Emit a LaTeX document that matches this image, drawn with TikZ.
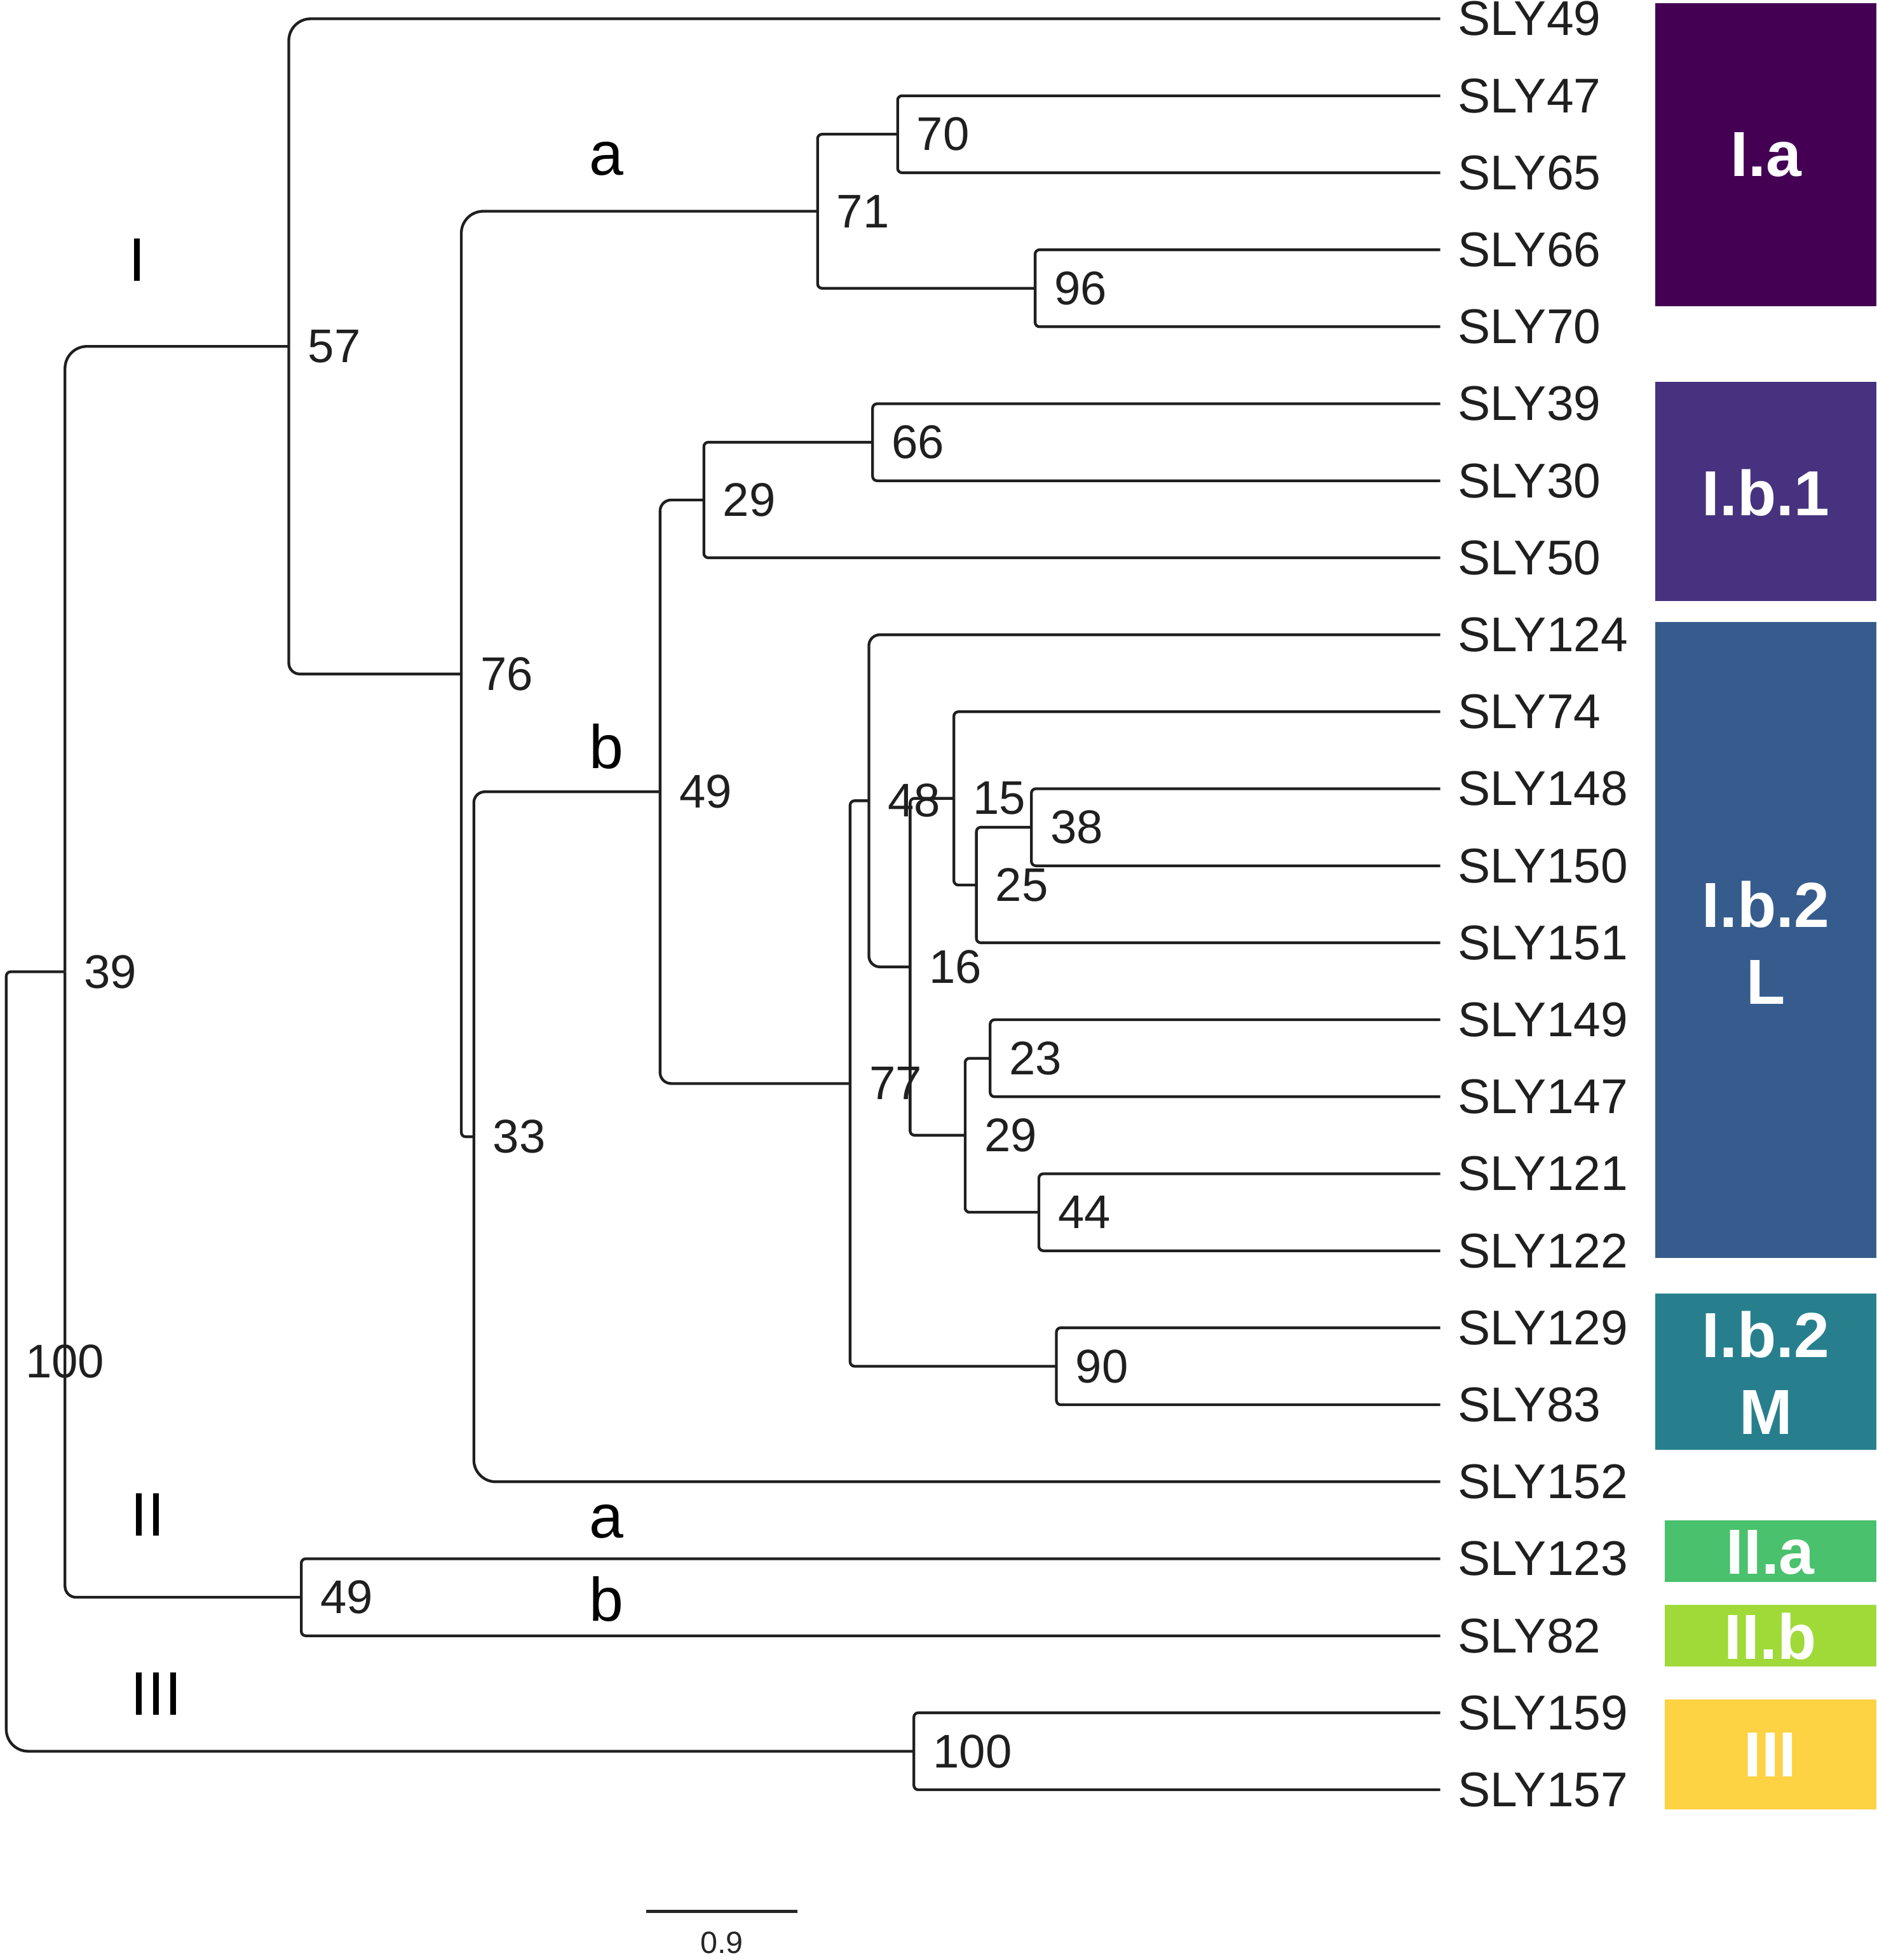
\documentclass[tikz,border=0pt]{standalone}
\usepackage{fontspec}
\setmainfont{Liberation Sans}
\definecolor{colIa}{HTML}{440154}
\definecolor{colIbone}{HTML}{46327E}
\definecolor{colIbL}{HTML}{365C8D}
\definecolor{colIbM}{HTML}{277F8E}
\definecolor{colIIa}{HTML}{4AC16D}
\definecolor{colIIb}{HTML}{A0DA39}
\definecolor{colIII}{HTML}{FDD243}

\begin{document}
\begin{tikzpicture}[x=0.02cm,y=-0.02cm,
  br/.style={line width=1.25pt,black!88,rounded corners=2pt},
  brmid/.style={br,rounded corners=5pt},
  brbig/.style={br,rounded corners=10pt},
  leaf/.style={anchor=west,inner xsep=0.28cm,inner ysep=0pt,text=black!88,font=\fontsize{22.2}{25}\selectfont},
  boot/.style={anchor=west,inner sep=0pt,xshift=0.3cm,text=black!88,font=\fontsize{21.5}{24}\selectfont},
  clade/.style={inner sep=0pt,font=\fontsize{28}{32}\selectfont},
  grp/.style={inner sep=0pt,align=center,text=white,font=\fontsize{29}{35}\selectfont\bfseries}]
\useasboundingbox (0,0) rectangle (1501,1568);

\foreach \n [count=\i from 0] in {49,47,65,66,70,39,30,50,124,74,148,150,151,149,147,121,122,129,83,152,123,82,159,157}
  \node[leaf] (SLY\n) at (1152,15+61.6*\i) {SLY\n};

\coordinate (n70) at (718,107.4);
\coordinate (n96) at (828,230.6);
\coordinate (n71) at (654,169);
\coordinate (n66) at (698,353.8);
\coordinate (n29a) at (563,400);
\coordinate (n38) at (825,661.8);
\coordinate (n25) at (781,708);
\coordinate (n15) at (763,638.7);
\coordinate (n23) at (792,846.6);
\coordinate (n44) at (831,969.8);
\coordinate (n29b) at (772,908.2);
\coordinate (n16) at (728,773.5);
\coordinate (n48) at (695,640.6);
\coordinate (n90) at (845,1093);
\coordinate (n77) at (680,866.8);
\coordinate (n49b) at (528,633.4);
\coordinate (n33) at (379,909.4);
\coordinate (n76) at (369,539.2);
\coordinate (n57) at (231,277.1);
\coordinate (n49c) at (241,1277.8);
\coordinate (n39) at (52,777.4);
\coordinate (n100c) at (731,1401);
\coordinate (root) at (5,1089.2);

\draw[br] (SLY47.west) -| (n70) |- (SLY65.west);
\draw[br] (SLY66.west) -| (n96) |- (SLY70.west);
\draw[br] (n70) -| (n71) |- (n96);
\draw[br] (SLY39.west) -| (n66) |- (SLY30.west);
\draw[br] (n66) -| (n29a) |- (SLY50.west);
\draw[br] (SLY148.west) -| (n38) |- (SLY150.west);
\draw[br] (n38) -| (n25) |- (SLY151.west);
\draw[br] (SLY74.west) -| (n15) |- (n25);
\draw[br] (SLY149.west) -| (n23) |- (SLY147.west);
\draw[br] (SLY121.west) -| (n44) |- (SLY122.west);
\draw[br] (n23) -| (n29b) |- (n44);
\draw[br] (n15) -| (n16) |- (n29b);
\draw[brmid] (SLY124.west) -| (n48) |- (n16);
\draw[br] (SLY129.west) -| (n90) |- (SLY83.west);
\draw[br] (n48) -| (n77) |- (n90);
\draw[brmid] (n29a) -| (n49b) |- (n77);
\draw[brmid] (n49b) -| (n33);
\draw[brbig] (n33) |- (SLY152.west);
\draw[brbig] (n71) -| (n76);
\draw[br] (n76) |- (n33);
\draw[brbig] (SLY49.west) -| (n57);
\draw[brmid] (n57) |- (n76);
\draw[br] (SLY123.west) -| (n49c) |- (SLY82.west);
\draw[br] (SLY159.west) -| (n100c) |- (SLY157.west);
\draw[brbig] (n57) -| (n39);
\draw[brmid] (n39) |- (n49c);
\draw[br] (n39) -| (root);
\draw[brbig] (root) |- (n100c);

\foreach \c/\t in {n70/70,n96/96,n71/71,n66/66,n29a/29,n38/38,n25/25,n15/15,n23/23,n44/44,n29b/29,n16/16,n48/48,n90/90,n77/77,n49b/49,n33/33,n76/76,n57/57,n49c/49,n39/39,n100c/100,root/100}
  \node[boot] (b\c) at (\c) {\t};

\node[clade] (lI) at (110,208) {I};
\node[clade] (la1) at (485,127) {a};
\node[clade] (lb1) at (485,597) {b};
\node[clade] (lII) at (118,1212) {II};
\node[clade] (la2) at (485,1217) {a};
\node[clade] (lb2) at (485,1279) {b};
\node[clade] (lIII) at (125,1355) {III};

\fill[colIa] (1324,2.6) rectangle (1501,245);
\fill[colIbone] (1324,305.4) rectangle (1501,480.8);
\fill[colIbL] (1324,497.6) rectangle (1501,1006.6);
\fill[colIbM] (1324,1034.8) rectangle (1501,1160);
\fill[colIIa] (1331.7,1216.3) rectangle (1501,1265.6);
\fill[colIIb] (1331.7,1284) rectangle (1501,1333);
\fill[colIII] (1331.7,1359.6) rectangle (1501,1447.6);
\node[grp] (gIa) at (1412.5,124) {I.a};
\node[grp] (gIbone) at (1412.5,394) {I.b.1};
\node[grp] (gIbL) at (1412.5,754) {I.b.2\\L};
\node[grp] (gIbM) at (1412.5,1098) {I.b.2\\M};
\node[grp] (gIIa) at (1416,1242) {II.a};
\node[grp] (gIIb) at (1416,1309) {II.b};
\node[grp] (gIII) at (1416,1404) {III};

\coordinate (s0) at (517,1529);
\coordinate (s1) at (638,1529);
\draw[line width=1.6pt,black!85] (s0) -- (s1);
\node[inner sep=0pt,text=black!85,font=\fontsize{14}{16}\selectfont] (sbar) at (577.5,1554) {0.9};
\end{tikzpicture}
\end{document}
